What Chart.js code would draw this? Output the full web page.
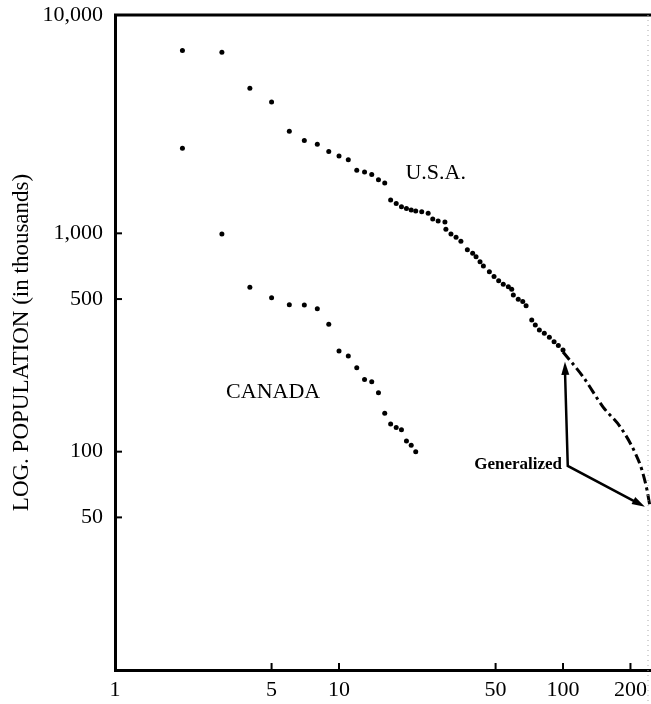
<!DOCTYPE html>
<html>
<head>
<meta charset="utf-8">
<script src="https://cdn.jsdelivr.net/npm/chart.js@4"></script>
<style>
html, body { margin: 0; padding: 0; background: #fff; overflow: hidden; }
#wrap { width: 651px; height: 704px; }
canvas { display: block; }
</style>
</head>
<body>
<div id="wrap"><canvas id="myChart"></canvas></div>
<script>
// rank of city (x) and population in thousands (y)
var usaRank = [2, 3, 4, 5, 6, 7, 8, 9, 10, 11, 12, 13, 14, 15, 16, 17, 18, 19, 20, 21, 22,
  23.4, 25, 26.2, 27.7, 29.7, 30, 31.6, 33.3, 35, 37.4, 39.5, 40.9, 42.6, 44.1, 46.9, 49.2,
  51.6, 54.1, 57, 59, 60, 63.1, 66.1, 68.4, 72.5, 75.2, 78.4, 82.5, 86.9, 91.2, 95.3, 100];
var usaPop = [6870, 6750, 4620, 3990, 2935, 2660, 2560, 2370, 2260, 2170, 1945, 1910, 1860,
  1760, 1700, 1420, 1370, 1325, 1298, 1280, 1267, 1257, 1236, 1164, 1140, 1128, 1045, 994,
  960, 920, 840, 811, 782, 742, 709, 666, 634, 607, 585, 570, 555, 522, 499, 487, 466, 401,
  380, 361, 349, 334, 319, 306, 292];

var genRank = [100, 123, 151, 180, 210, 225, 237, 245];
var genPop = [286, 220, 160, 130, 98.6, 82.4, 66.8, 55.2];

var canRank = [2, 3, 4, 5, 6, 7, 8, 9, 10, 11, 12, 13, 14, 15, 16, 17, 18, 19, 20, 21, 22];
var canPop = [2455, 994, 566, 507, 471, 470, 451, 383, 289, 274, 242, 214, 209, 186, 150,
  134, 129, 126, 112, 107, 100];

var xTicks = [1, 5, 10, 50, 100, 200];
var yTicks = [10000, 1000, 500, 100, 50];

function pts(xs, ys) {
  return xs.map(function (x, i) { return { x: x, y: ys[i] } })
}

var serif = 'Liberation Serif'

// frame, inward ticks, labels and arrows
var decor = {
  id: 'decor',
  afterDraw: function (chart) {
    var ctx = chart.ctx
    var a = chart.chartArea
    var xs = chart.scales.x
    var ys = chart.scales.y
    ctx.save()
    ctx.strokeStyle = '#000'
    ctx.lineWidth = 3
    ctx.beginPath()
    ctx.moveTo(a.left - 1, a.top)
    ctx.lineTo(chart.width, a.top)
    ctx.stroke()

    ctx.lineWidth = 2
    xTicks.slice(1).forEach(function (v) {
      var px = xs.getPixelForValue(v)
      ctx.beginPath()
      ctx.moveTo(px, a.bottom)
      ctx.lineTo(px, a.bottom - 7)
      ctx.stroke()
    })
    yTicks.slice(1).forEach(function (v) {
      var py = ys.getPixelForValue(v)
      ctx.beginPath()
      ctx.moveTo(a.left, py)
      ctx.lineTo(a.left + 7, py)
      ctx.stroke()
    })

    // faint page edge
    ctx.strokeStyle = '#aaa'
    ctx.lineWidth = 1
    ctx.setLineDash([1, 4])
    ctx.beginPath()
    ctx.moveTo(648, a.top)
    ctx.lineTo(648, chart.height)
    ctx.stroke()
    ctx.setLineDash([])

    ctx.fillStyle = '#000'
    ctx.textAlign = 'center'
    ctx.textBaseline = 'middle'
    ctx.font = '22px ' + serif
    ctx.fillText('U.S.A.', xs.getPixelForValue(27), ys.getPixelForValue(1890))
    ctx.fillText('CANADA', xs.getPixelForValue(5.08), ys.getPixelForValue(188))
    ctx.font = 'bold 17px ' + serif
    ctx.fillText('Generalized', xs.getPixelForValue(63), ys.getPixelForValue(87))

    // arrows
    var bx = xs.getPixelForValue(105), by = ys.getPixelForValue(86)
    var h1x = xs.getPixelForValue(102), h1y = ys.getPixelForValue(258)
    var h2x = xs.getPixelForValue(232), h2y = ys.getPixelForValue(56)
    ctx.strokeStyle = '#000'
    ctx.lineWidth = 2.5
    ctx.beginPath()
    ctx.moveTo(h1x, h1y + 8)
    ctx.lineTo(bx, by)
    ctx.lineTo(h2x - 8, h2y - 4)
    ctx.stroke()
    arrowHead(ctx, bx, by, h1x, h1y)
    arrowHead(ctx, bx, by, h2x, h2y)
    ctx.restore()
  }
}

function arrowHead(ctx, fx, fy, tx, ty) {
  var ang = Math.atan2(ty - fy, tx - fx)
  var len = 13, w = 4
  ctx.beginPath()
  ctx.moveTo(tx, ty)
  ctx.lineTo(tx - len * Math.cos(ang) + w * Math.sin(ang), ty - len * Math.sin(ang) - w * Math.cos(ang))
  ctx.lineTo(tx - len * Math.cos(ang) - w * Math.sin(ang), ty - len * Math.sin(ang) + w * Math.cos(ang))
  ctx.closePath()
  ctx.fill()
}

new Chart('myChart', {
  type: 'scatter',
  data: {
    datasets: [{
      label: 'U.S.A.',
      data: pts(usaRank, usaPop),
      backgroundColor: '#000',
      borderWidth: 0,
      pointRadius: 2.5
    }, {
      label: 'Generalized',
      type: 'line',
      data: pts(genRank, genPop),
      borderColor: '#000',
      borderWidth: 3,
      borderDash: [10, 4, 3, 4],
      pointRadius: 0,
      cubicInterpolationMode: 'monotone',
      fill: false
    }, {
      label: 'Canada',
      data: pts(canRank, canPop),
      backgroundColor: '#000',
      borderWidth: 0,
      pointRadius: 2.5
    }]
  },
  options: {
    responsive: true,
    maintainAspectRatio: false,
    animation: false,
    layout: { autoPadding: false, padding: { top: 15, right: 0, bottom: 0, left: 0 } },
    plugins: {
      legend: { display: false },
      tooltip: { enabled: false }
    },
    scales: {
      x: {
        type: 'logarithmic',
        min: 1,
        max: 247,
        afterBuildTicks: function (scale) {
          scale.ticks = xTicks.map(function (v) { return { value: v } })
        },
        afterFit: function (scale) {
          scale.height = 34
          scale.paddingLeft = 0
          scale.paddingRight = 0
        },
        grid: { display: false, drawTicks: false },
        border: { display: true, color: '#000', width: 3 },
        ticks: {
          color: '#000',
          padding: 7,
          maxRotation: 0,
          autoSkip: false,
          font: { family: serif, size: 22 },
          callback: function (v) { return String(v) }
        }
      },
      y: {
        type: 'logarithmic',
        min: 10,
        max: 10000,
        afterBuildTicks: function (scale) {
          scale.ticks = yTicks.map(function (v) { return { value: v } })
        },
        afterFit: function (scale) {
          scale.width = 115
          scale.paddingTop = 0
          scale.paddingBottom = 0
        },
        grid: { display: false, drawTicks: false },
        border: { display: true, color: '#000', width: 3 },
        title: {
          display: true,
          text: 'LOG. POPULATION (in thousands)',
          color: '#000',
          font: { family: serif, size: 23 },
          padding: { top: 8, bottom: 0 }
        },
        ticks: {
          color: '#000',
          padding: 12,
          autoSkip: false,
          font: { family: serif, size: 22 },
          callback: function (v) { return Number(v).toLocaleString('en-US') }
        }
      }
    }
  },
  plugins: [decor]
})
</script>
</body>
</html>
